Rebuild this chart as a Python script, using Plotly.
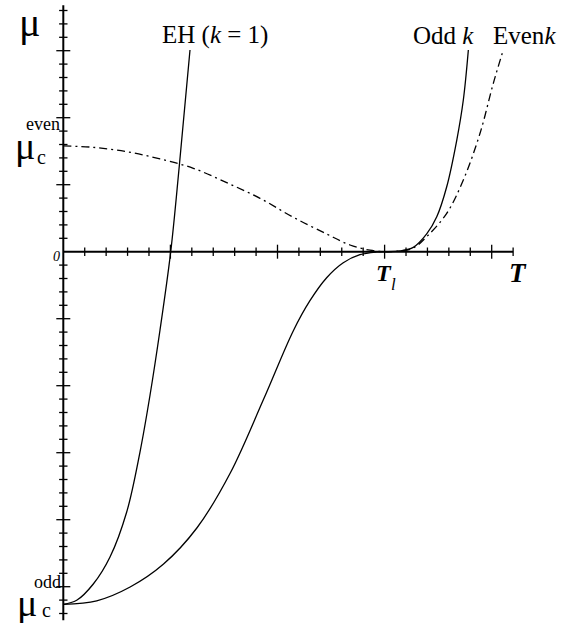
import numpy as np
import plotly.graph_objects as go

# ---- curve data: mu as a function of T ----
eh_T = [0, 0.125, 0.280, 0.436, 0.592, 0.716, 0.810, 0.903, 1.003, 1.083, 1.183]
eh_mu = [-5.263, -5.203, -4.960, -4.557, -3.885, -2.990, -2.139, -1.169, 0.0, 1.279, 3.01]

odd_T = [0, 0.312, 0.624, 0.936, 1.247, 1.559, 1.871, 2.148, 2.303, 2.459, 2.614,
         2.770, 2.926, 3.0, 3.144, 3.268, 3.393, 3.487, 3.580, 3.674, 3.735, 3.782]
odd_mu = [-5.263, -5.210, -5.004, -4.661, -4.124, -3.303, -2.199, -1.179, -0.731,
          -0.388, -0.164, -0.045, -0.004, 0.0, 0.012, 0.065, 0.265, 0.522, 0.970,
          1.667, 2.264, 3.01]

even_T = [0, 0.280, 0.592, 0.903, 1.214, 1.526, 1.837, 2.148, 2.459, 2.677, 2.864,
          3.0, 3.144, 3.268, 3.393, 3.580, 3.735, 3.891, 4.015, 4.108]
even_mu = [1.578, 1.558, 1.493, 1.384, 1.245, 1.030, 0.797, 0.513, 0.264, 0.100, 0.022,
           0.0, 0.012, 0.055, 0.224, 0.573, 1.070, 1.767, 2.513, 3.01]

# axis extents and tick spacing
T_axis_max = 4.2
mu_axis_min, mu_axis_max = -5.5, 3.68
minor_step = 0.2

# pixel <-> data helpers for the fixed 576x623 canvas
X0, XS = 63.3, 107.1
Y0, YS = 251.7, 67.0
def px2x(p):
    return (p - X0) / XS
def py2y(p):
    return (Y0 - p) / YS

W, H = 576, 623
serif = "Liberation Serif"
ink = "black"

fig = go.Figure()

# axis lines
fig.add_trace(go.Scatter(x=[0, T_axis_max], y=[0, 0], mode="lines",
                         line=dict(color=ink, width=2), hoverinfo="skip"))
fig.add_trace(go.Scatter(x=[0, 0], y=[mu_axis_min, mu_axis_max], mode="lines",
                         line=dict(color=ink, width=2), hoverinfo="skip"))

# tick marks crossing the axes
xt = np.round(np.arange(minor_step, T_axis_max + 1e-9, minor_step), 3)
xt_major = [t for t in xt if abs(t - round(t)) < 1e-6]
xt_minor = [t for t in xt if abs(t - round(t)) >= 1e-6]
yt = np.round(np.arange(-5.4, mu_axis_max, minor_step), 3)
yt = [t for t in yt if abs(t) > 1e-6]
yt_major = [t for t in yt if abs(t - round(t)) < 1e-6]
yt_minor = [t for t in yt if abs(t - round(t)) >= 1e-6]

def ticks(x, y, sym, size):
    return go.Scatter(x=x, y=y, mode="markers", hoverinfo="skip",
                      marker=dict(symbol=sym, size=size, color=ink,
                                  line=dict(color=ink, width=1.3)))

fig.add_trace(ticks(xt_minor, [0] * len(xt_minor), "line-ns", 6))
fig.add_trace(ticks(xt_major, [0] * len(xt_major), "line-ns", 10))
fig.add_trace(ticks([0] * len(yt_minor), yt_minor, "line-ew", 6))
fig.add_trace(ticks([0] * len(yt_major), yt_major, "line-ew", 10))

# curves
curve = dict(color=ink, width=1.3, smoothing=1.0)
fig.add_trace(go.Scatter(x=eh_T, y=eh_mu, mode="lines", line_shape="spline",
                         line=curve, hoverinfo="skip"))
fig.add_trace(go.Scatter(x=odd_T, y=odd_mu, mode="lines", line_shape="spline",
                         line=curve, hoverinfo="skip"))
fig.add_trace(go.Scatter(x=even_T, y=even_mu, mode="lines", line_shape="spline",
                         line=dict(curve, dash="8px,4px,2px,4px"), hoverinfo="skip"))

def label(x, y, text, size, xanchor="center", yanchor="middle"):
    fig.add_annotation(x=x, y=y, xref="x", yref="y", text=text, showarrow=False,
                       xanchor=xanchor, yanchor=yanchor,
                       font=dict(family=serif, size=size, color=ink))

# axis titles
label(px2x(29), py2y(22), "μ", 40)
label(px2x(518), py2y(273), "<b><i>T</i></b>", 27)
label(px2x(384), py2y(273), "<b><i>T</i></b>", 24)
label(px2x(393), py2y(284), "<i>l</i>", 17)
label(px2x(56), py2y(256), "<i>0</i>", 14)

# critical values on the mu axis
label(px2x(25), py2y(146), "μ", 38)
label(px2x(41), py2y(157), "c", 20)
label(px2x(43), py2y(124), "even", 18)
label(px2x(27), py2y(603), "μ", 38)
label(px2x(46), py2y(610), "c", 20)
label(px2x(47), py2y(582), "odd", 18)

# curve labels
label(px2x(215), py2y(35), "EH (<i>k</i> = 1)", 25)
label(px2x(443), py2y(35), "Odd <i>k</i>", 25)
label(px2x(524), py2y(35), "Even<i>k</i>", 25)

fig.update_layout(
    width=W, height=H, margin=dict(l=0, r=0, t=0, b=0),
    paper_bgcolor="white", plot_bgcolor="white", showlegend=False,
    font=dict(family=serif),
    xaxis=dict(range=[px2x(0), px2x(W)], visible=False, fixedrange=True),
    yaxis=dict(range=[py2y(H), py2y(0)], visible=False, fixedrange=True),
)

fig.write_html("out.html")
